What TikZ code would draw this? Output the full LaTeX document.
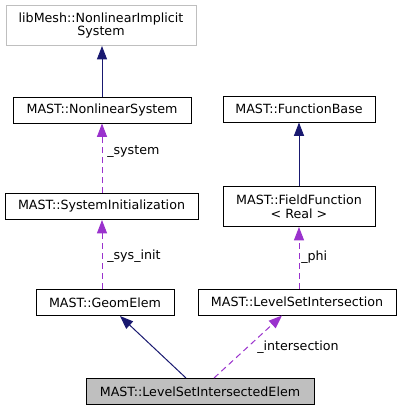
\documentclass[tikz,border=0pt]{standalone}
\usepackage{fontspec}
\setmainfont{DejaVu Sans}
\usetikzlibrary{arrows.meta}
\definecolor{edgeblue}{HTML}{191970}
\definecolor{edgepurple}{HTML}{9A32CD}
\definecolor{boxgray}{HTML}{BFBFBF}
\tikzset{
classbox/.style={draw, line width=0.75pt, fill=white, inner sep=0pt, align=center,
  minimum height=19.5pt, font=\fontsize{9.5}{10.25}\selectfont},
tallbox/.style={classbox, minimum height=30pt},
inherit/.style={color=edgeblue, line width=0.75pt, -{Triangle[length=10pt,width=7.5pt]}},
usage/.style={color=edgepurple, line width=0.75pt, dash pattern=on 4.5pt off 3pt,
  -{Triangle[length=10pt,width=7.5pt]}},
edgelabel/.style={anchor=west, inner sep=0pt, font=\fontsize{9.5}{10.25}\selectfont}
}
\begin{document}
\begin{tikzpicture}[x=0.75pt, y=-0.75pt]
  \useasboundingbox (0,0) rectangle (402,411);
  \node[tallbox, draw=boxgray, minimum width=142.5pt] (implicit) at (101,25.5) {libMesh::NonlinearImplicit\\System};
  \node[classbox, minimum width=133.5pt] (nlsys) at (102,110) {MAST::NonlinearSystem};
  \node[classbox, minimum width=144.75pt] (sysinit) at (101.5,206.5) {MAST::SystemInitialization};
  \node[classbox, minimum width=103.5pt] (geom) at (105,302.5) {MAST::GeomElem};
  \node[classbox, minimum width=114pt] (funcbase) at (299,109) {MAST::FunctionBase};
  \node[tallbox, minimum width=114pt] (fieldfn) at (299,206.5) {MAST::FieldFunction\\\textless{} Real \textgreater};
  \node[classbox, minimum width=148.5pt] (lsi) at (297,302) {MAST::LevelSetIntersection};
  \node[classbox, fill=boxgray, minimum width=171pt] (main) at (200,391.5) {MAST::LevelSetIntersectedElem};
  \draw[inherit] (nlsys.north) -- (nlsys.north |- implicit.south);
  \draw[usage] (sysinit.north -| nlsys.south) -- (nlsys.south);
  \draw[usage] (geom.north -| nlsys.south) -- (sysinit.south -| nlsys.south);
  \draw[inherit] (fieldfn.north) -- (fieldfn.north |- funcbase.south);
  \draw[usage] (lsi.north -| fieldfn.south) -- (fieldfn.south);
  \draw[inherit] ([xshift=-10.5pt]main.north) -- ([xshift=11.25pt]geom.south);
  \draw[usage] ([xshift=10.5pt]main.north) -- ([xshift=-11.25pt]lsi.south);
  \node[edgelabel] (lblsystem) at (107,152) {\_system};
  \node[edgelabel] (lblsysinit) at (107,256) {\_sys\_init};
  \node[edgelabel] (lblphi) at (301,257) {\_phi};
  \node[edgelabel] (lblinter) at (257,347) {\_intersection};
\end{tikzpicture}
\end{document}
